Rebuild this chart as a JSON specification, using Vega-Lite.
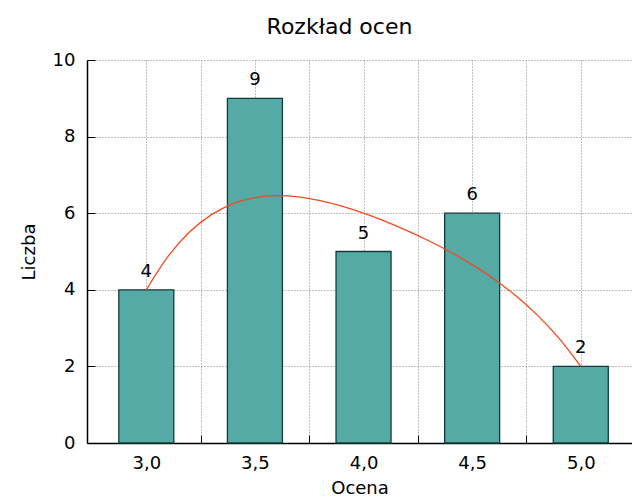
{
  "$schema": "https://vega.github.io/schema/vega-lite/v6.json",
  "autosize": {"type": "none"},
  "padding": {"left": 87, "top": 60, "right": 0, "bottom": 55},
  "width": 545,
  "height": 383,
  "background": "white",
  "config": {
    "font": "DejaVu Sans",
    "view": {"stroke": null},
    "axis": {"labelFont": "DejaVu Sans", "titleFont": "DejaVu Sans", "labelFontSize": 18, "titleFontSize": 18, "titleFontWeight": "normal", "labelColor": "#000", "titleColor": "#000", "domainColor": "#000", "domainWidth": 1.5, "tickColor": "#000", "gridColor": "#808080", "gridDash": [1, 2], "gridWidth": 1}
  },
  "title": {"text": "Rozkład ocen", "font": "DejaVu Sans", "fontSize": 22, "fontWeight": "normal", "color": "#000", "anchor": "middle", "frame": "group", "dx": -20, "offset": 12},
  "datasets": {
    "bars": [
      {"ocena": 3.0, "liczba": 4},
      {"ocena": 3.5, "liczba": 9},
      {"ocena": 4.0, "liczba": 5},
      {"ocena": 4.5, "liczba": 6},
      {"ocena": 5.0, "liczba": 2}
    ],
    "curve": [
      {"ocena": 3.0, "liczba": 4.0},
      {"ocena": 3.1, "liczba": 4.872},
      {"ocena": 3.2, "liczba": 5.514},
      {"ocena": 3.3, "liczba": 5.962},
      {"ocena": 3.4, "liczba": 6.250},
      {"ocena": 3.5, "liczba": 6.406},
      {"ocena": 3.6, "liczba": 6.458},
      {"ocena": 3.7, "liczba": 6.426},
      {"ocena": 3.8, "liczba": 6.330},
      {"ocena": 3.9, "liczba": 6.184},
      {"ocena": 4.0, "liczba": 6.0},
      {"ocena": 4.1, "liczba": 5.786},
      {"ocena": 4.2, "liczba": 5.546},
      {"ocena": 4.3, "liczba": 5.280},
      {"ocena": 4.4, "liczba": 4.986},
      {"ocena": 4.5, "liczba": 4.656},
      {"ocena": 4.6, "liczba": 4.282},
      {"ocena": 4.7, "liczba": 3.848},
      {"ocena": 4.8, "liczba": 3.338},
      {"ocena": 4.9, "liczba": 2.730},
      {"ocena": 5.0, "liczba": 2.0}
    ]
  },
  "layer": [
    {
      "data": {"name": "bars"},
      "mark": {"type": "bar", "width": 55, "fill": "#55aaa5", "stroke": "#123c3a", "strokeWidth": 1.3},
      "encoding": {
        "x": {"field": "ocena", "type": "quantitative", "scale": {"domain": [2.75, 5.2128], "nice": false, "zero": false},
          "axis": {"title": "Ocena", "values": [3, 3.25, 3.5, 3.75, 4, 4.25, 4.5, 4.75, 5], "labelExpr": "(round(datum.value*4) % 2 == 0) ? replace(format(datum.value, '.1f'), '.', ',') : ''", "tickSize": -8, "labelPadding": 19, "titlePadding": 7, "grid": true}},
        "y": {"field": "liczba", "type": "quantitative", "scale": {"domain": [0, 10], "nice": false},
          "axis": {"title": "Liczba", "values": [0, 2, 4, 6, 8, 10], "tickSize": -8, "labelPadding": 20, "titlePadding": 14, "grid": true}}
      }
    },
    {
      "data": {"name": "bars"},
      "mark": {"type": "text", "fontSize": 18, "baseline": "alphabetic", "dy": -13, "color": "#000", "font": "DejaVu Sans"},
      "encoding": {
        "x": {"field": "ocena", "type": "quantitative"},
        "y": {"field": "liczba", "type": "quantitative"},
        "text": {"field": "liczba", "type": "quantitative"}
      }
    },
    {
      "data": {"name": "curve"},
      "mark": {"type": "line", "interpolate": "monotone", "color": "#f4481e", "strokeWidth": 1.3},
      "encoding": {
        "x": {"field": "ocena", "type": "quantitative"},
        "y": {"field": "liczba", "type": "quantitative"}
      }
    }
  ]
}
